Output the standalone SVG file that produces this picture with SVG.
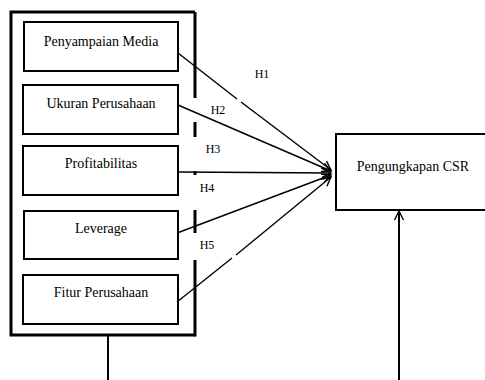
<svg xmlns="http://www.w3.org/2000/svg" width="485" height="380" viewBox="0 0 485 380">
<style>
.box{fill:#fff;stroke:#000;stroke-width:2}
.outer{fill:none;stroke:#000;stroke-width:3}
.t{font-family:"Liberation Serif","Times New Roman",serif;font-size:14px;fill:#000;text-anchor:middle}
.h{font-family:"Liberation Serif","Times New Roman",serif;font-size:12px;fill:#000;text-anchor:middle}
.arr{fill:none;stroke:#000;stroke-width:1.4}
.thick{fill:none;stroke:#000;stroke-width:2}
</style>
<defs>
<marker id="ah" markerUnits="userSpaceOnUse" markerWidth="12" markerHeight="12" refX="10" refY="5" orient="auto" viewBox="0 0 12 10">
<path d="M1,0.5 L10,5 L1,9.5" fill="none" stroke="#000" stroke-width="1.4"/>
</marker>
</defs>
<rect width="485" height="380" fill="#fff"/>
<g id="group-box">
<path class="outer" d="M195,12 L11,12 L11,335 L195,335"/>
<path class="outer" d="M195,12 V98 M195,122 V137 M195,171 V175 M195,210 V233 M195,260 V336.5"/>
</g>
<g id="n1"><rect class="box" x="24" y="22" width="154" height="49"/><text class="t" x="101" y="46">Penyampaian Media</text></g>
<g id="n2"><rect class="box" x="23" y="85" width="155" height="49"/><text class="t" x="101" y="108">Ukuran Perusahaan</text></g>
<g id="n3"><rect class="box" x="23" y="146" width="155" height="49"/><text class="t" x="101" y="168">Profitabilitas</text></g>
<g id="n4"><rect class="box" x="24" y="211" width="154" height="48"/><text class="t" x="101" y="233">Leverage</text></g>
<g id="n5"><rect class="box" x="23" y="275" width="155" height="49"/><text class="t" x="101" y="297">Fitur Perusahaan</text></g>
<g id="target"><rect class="box" x="336" y="134" width="150" height="76"/><text class="t" x="413" y="171">Pengungkapan CSR</text></g>
<g id="connectors">
<path class="arr" d="M178,53 L237,99"/>
<path class="arr" d="M241,102 L331,170" marker-end="url(#ah)"/>
<path class="arr" d="M178,105 L331,171" marker-end="url(#ah)"/>
<path class="arr" d="M178,172 L331,173" marker-end="url(#ah)"/>
<path class="arr" d="M177,233 L331,175" marker-end="url(#ah)"/>
<path class="arr" d="M177,302 L232,258"/>
<path class="arr" d="M236,255 L331,177" marker-end="url(#ah)"/>
<path class="thick" d="M108,336 V380"/>
<path class="thick" d="M399,380 V211" marker-end="url(#ah)"/>
</g>
<g id="labels">
<text class="h" x="262" y="78">H1</text>
<text class="h" x="218" y="114">H2</text>
<text class="h" x="213" y="153">H3</text>
<text class="h" x="207" y="192">H4</text>
<text class="h" x="207" y="249">H5</text>
</g>
</svg>
